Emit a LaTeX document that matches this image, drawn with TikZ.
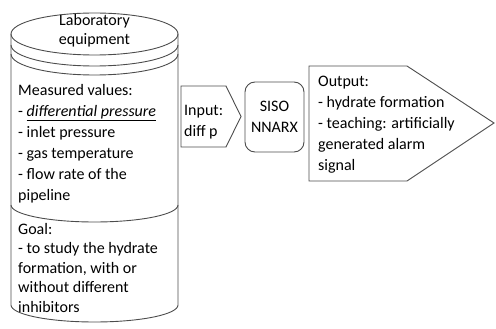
\documentclass[tikz,border=0pt]{standalone}
\usepackage{fontspec}
\setmainfont{Carlito}
\begin{document}
\begin{tikzpicture}[x=1pt,y=-1pt]
\tikzset{
  shp/.style={draw=black!70, line width=0.9pt},
  txt/.style={inner sep=0pt, align=left, anchor=north west, font=\fontsize{16}{21}\selectfont},
}
\useasboundingbox (0,0) rectangle (496,329);
% cylinder
\draw[shp] (11,34) -- (11,305) arc[start angle=180, end angle=0, x radius=83.5, y radius=17] -- (178,34);
\draw[shp] (94.5,34) ellipse [x radius=83.5, y radius=21];
\draw[shp] (11,45) arc[start angle=180, end angle=0, x radius=83.5, y radius=21];
\draw[shp] (11,54) arc[start angle=180, end angle=0, x radius=83.5, y radius=21];
\draw[shp] (11,205) arc[start angle=180, end angle=0, x radius=83.5, y radius=17];
% input chevron
\draw[shp] (181,86) -- (226,86) -- (241,116.5) -- (226,147) -- (181,147) -- cycle;
% SISO box
\draw[shp, rounded corners=10pt] (245,82) rectangle (304,152);
% output chevron
\draw[shp] (309,66) -- (407,66) -- (494,123) -- (407,181) -- (309,181) -- cycle;
% texts
\node[txt, align=center, anchor=north] (lab) at (94.5,14) {Laboratory\\[-1.5pt]equipment};
\node[txt] (meas) at (18,84) {Measured values:\\- \underline{\textit{differential pressure}}\\- inlet pressure\\- gas temperature\\- flow rate of the\\pipeline};
\node[txt] (goal) at (18,223) {Goal:\\[-1.5pt]- to study the hydrate\\[-1.5pt]formation, with or\\[-1.5pt]without different\\[-1.5pt]inhibitors};
\node[txt] (inp) at (184,105) {Input:\\diff p};
\node[txt, align=center, anchor=center] (siso) at (274.5,117) {SISO\\NNARX};
\node[txt] (out) at (318,76) {Output:\\- hydrate formation\\- teaching: artificially\\generated alarm\\signal};
\end{tikzpicture}
\end{document}
